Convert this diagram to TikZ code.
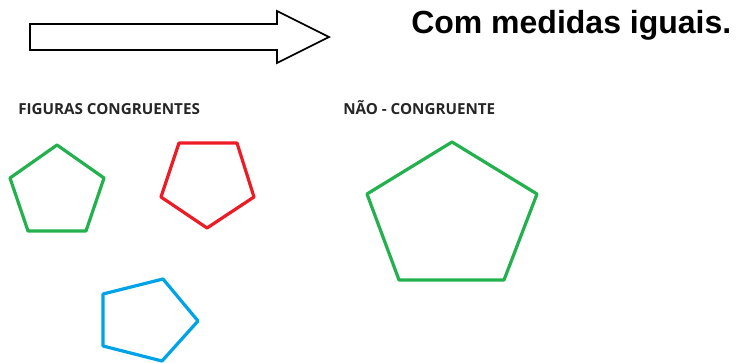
\documentclass[tikz,border=0pt]{standalone}
\usepackage{fontspec}
\setmainfont{Liberation Sans}
\newfontfamily\labfont{Open Sans}
\definecolor{pgreen}{RGB}{34,177,76}
\definecolor{pred}{RGB}{237,28,36}
\definecolor{pblue}{RGB}{0,162,232}
\begin{document}
\begin{tikzpicture}[x=0.75pt,y=-0.75pt,
  poly/.style={line width=2.4pt,line join=round},
  lab/.style={inner sep=0pt,anchor=base west,font=\labfont\bfseries\fontsize{11.4pt}{13pt}\selectfont,text=black!85},
  outline/.style={draw=black,line width=1.2pt,fill=white}]
\useasboundingbox (0,0) rectangle (736,363);
% block arrow
\draw[outline] (30,24) -- (277,24) -- (277,11) -- (329,37) -- (277,63) -- (277,50) -- (30,50) -- cycle;
\node[inner sep=0pt,anchor=base west,font=\bfseries\fontsize{24pt}{28pt}\selectfont] (title) at (411,34) {Com medidas iguais.};
\node[lab] (lcong) at (18,115) {FIGURAS CONGRUENTES};
\node[lab] (lnao) at (343,115) {NÃO - CONGRUENTE};
% pentagons
\draw[poly,draw=pgreen] (57,145) -- (104,178) -- (86,231) -- (28,231) -- (10,178) -- cycle;
\draw[poly,draw=pred] (179,143) -- (237,143) -- (254,197) -- (207,228) -- (161,197) -- cycle;
\draw[poly,draw=pgreen] (452,142) -- (537,194) -- (504,280) -- (399,280) -- (367,194) -- cycle;
\draw[poly,draw=pblue] (163,279) -- (198,321) -- (162,361) -- (103,346) -- (103,294) -- cycle;
\end{tikzpicture}
\end{document}
